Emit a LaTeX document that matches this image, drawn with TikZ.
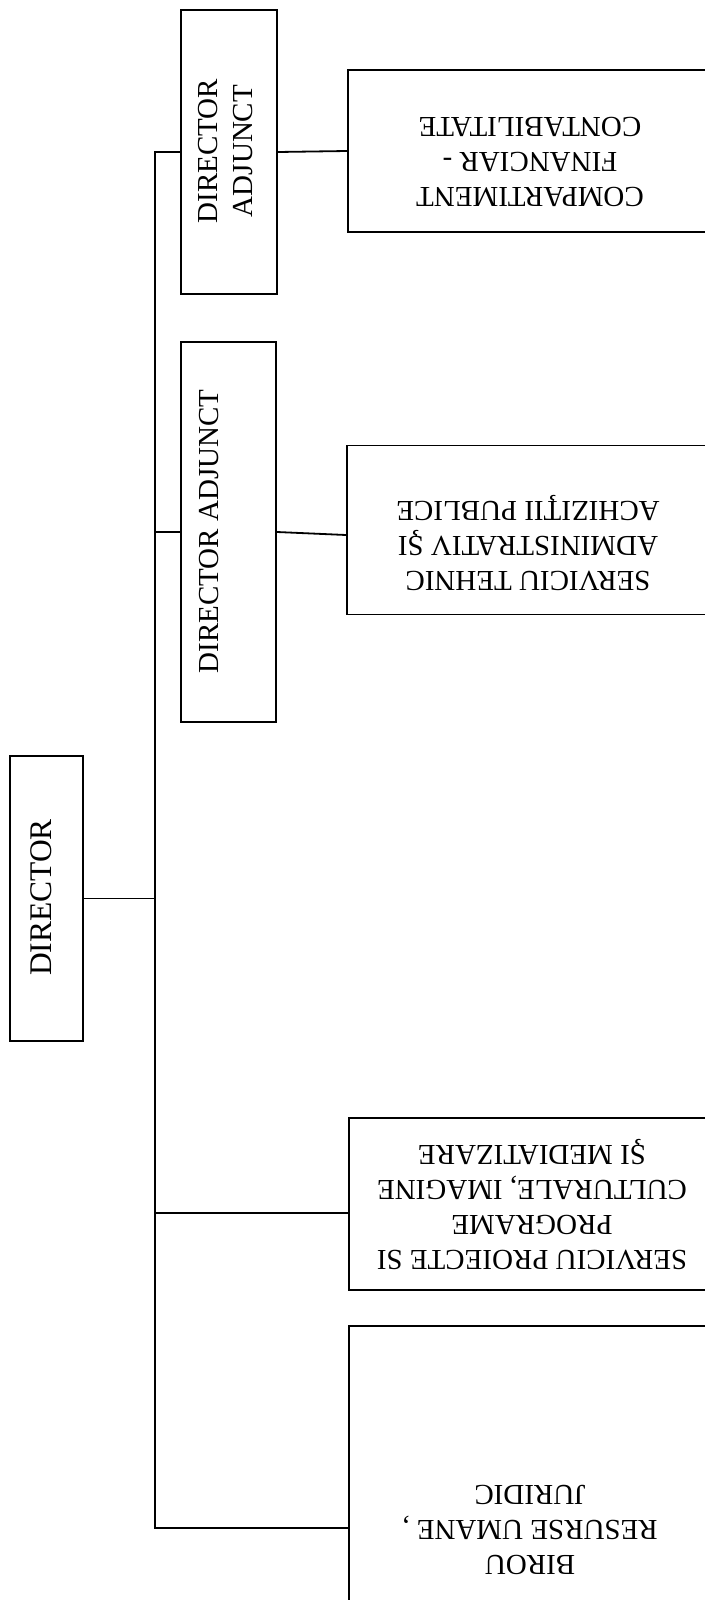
\documentclass[tikz,border=0pt]{standalone}
\usepackage{fontspec}
\setmainfont{Liberation Serif}
\begin{document}
\begin{tikzpicture}[x=0.5pt,y=-0.5pt,
  box/.style={draw, line width=0.9pt, inner sep=0pt},
  conn/.style={line width=0.9pt},
  txt/.style={align=center, inner sep=0pt, font=\fontsize{14.5pt}{17.5pt}\selectfont},
  bigtxt/.style={align=center, inner sep=0pt, font=\fontsize{15.75pt}{18pt}\selectfont}]
\useasboundingbox (0,0) rectangle (705,1600);
\clip (0,0) rectangle (705,1600);
% boxes
\node[box, minimum width=48pt, minimum height=142pt] (da1) at (229,152) {};
\node[box, minimum width=47.5pt, minimum height=190pt] (da2) at (228.5,532) {};
\node[box, minimum width=36.5pt, minimum height=142.5pt] (dir) at (46.5,898.5) {};
\node[box, minimum width=182pt, minimum height=81pt] (comp) at (530,151) {};
\node[box, minimum width=182.5pt, minimum height=84.5pt] (teh) at (529.5,530) {};
\node[box, minimum width=181.5pt, minimum height=86pt] (pro) at (530.5,1204) {};
\node[box, minimum width=181.5pt, minimum height=202pt] (bir) at (530.5,1528) {};
% texts
\node[txt, rotate=90] (da1t) at (226,151) {DIRECTOR\\ADJUNCT};
\node[txt, rotate=90] (da2t) at (209,531.5) {DIRECTOR ADJUNCT};
\node[bigtxt, rotate=90] (dirt) at (41,897.5) {DIRECTOR};
\node[txt, rotate=180] (compt) at (530,162) {COMPARTIMENT\\FINANCIAR -\\CONTABILITATE};
\node[txt, rotate=180] (teht) at (528,543) {SERVICIU TEHNIC\\ADMINISTRATIV ŞI\\ACHIZIŢII PUBLICE};
\node[txt, rotate=180] (prot) at (532,1204) {SERVICIU PROIECTE SI\\PROGRAME\\CULTURALE, IMAGINE\\ŞI MEDIATIZARE};
\node[txt, rotate=180] (birt) at (530,1530) {BIROU\\RESURSE UMANE ,\\JURIDIC};
% connectors
\coordinate (spine) at (155,0);
\coordinate (proc) at ([yshift=-4.5pt]pro.west);
\coordinate (tehc) at ([yshift=-2.5pt]teh.west);
\draw[conn] (da1.west) -- (da1.west -| spine) -- (bir.west -| spine) -- (bir.west);
\draw[conn] (dir.east) -- (dir.east -| spine);
\draw[conn] (da2.west) -- (da2.west -| spine);
\draw[conn] (proc -| spine) -- (proc);
\draw[conn] (da1.east) -- (comp.west);
\draw[conn] (da2.east) -- (tehc);
\end{tikzpicture}
\end{document}
